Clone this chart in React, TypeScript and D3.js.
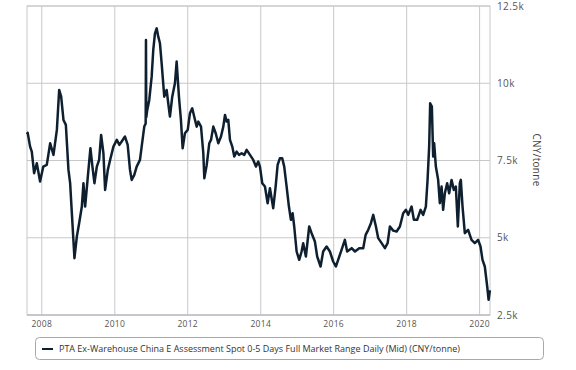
import React from "react";
import * as d3 from "d3";

const dates: string[] = [
  "2007-08-06","2007-08-13","2007-09-06","2007-09-23","2007-10-16","2007-11-12","2007-12-15",
  "2008-01-16","2008-02-20","2008-03-25","2008-04-27","2008-05-31","2008-06-23","2008-07-13",
  "2008-08-05","2008-08-29","2008-09-24","2008-10-11","2008-10-28","2008-11-23","2008-12-17",
  "2009-01-09","2009-02-05","2009-02-21","2009-03-10","2009-04-06","2009-05-02","2009-05-22",
  "2009-06-11","2009-07-05","2009-07-28","2009-08-17","2009-09-09","2009-09-26","2009-10-23",
  "2009-11-15","2009-12-18","2010-01-21","2010-02-16","2010-03-11","2010-04-13","2010-05-10",
  "2010-06-02","2010-06-19","2010-07-15","2010-08-08","2010-09-10","2010-09-27","2010-10-23",
  "2010-11-06","2010-11-09","2010-11-12","2010-11-22","2010-12-12","2011-01-05","2011-01-21",
  "2011-02-07","2011-02-24","2011-03-12","2011-03-29","2011-04-15","2011-05-11","2011-06-04",
  "2011-06-20","2011-07-07","2011-07-30","2011-08-26","2011-09-12","2011-10-05","2011-10-25",
  "2011-11-11","2011-12-04","2012-01-01","2012-01-23","2012-02-15","2012-03-14","2012-03-31",
  "2012-04-16","2012-05-13","2012-06-05","2012-06-15","2012-07-09","2012-08-04","2012-08-21",
  "2012-09-13","2012-10-07","2012-11-02","2012-11-29","2012-12-22","2013-01-08","2013-01-25",
  "2013-02-10","2013-02-27","2013-03-22","2013-04-11","2013-05-05","2013-05-28","2013-06-24",
  "2013-07-20","2013-08-13","2013-09-15","2013-10-18","2013-11-14","2013-12-07","2013-12-24",
  "2014-01-16","2014-02-12","2014-03-11","2014-04-03","2014-05-06","2014-05-30","2014-06-19",
  "2014-07-12","2014-08-04","2014-08-24","2014-09-17","2014-10-10","2014-10-30","2014-11-16",
  "2014-12-02","2014-12-26","2015-01-21","2015-02-14","2015-03-02","2015-03-29","2015-05-01",
  "2015-05-25","2015-06-27","2015-07-20","2015-08-23","2015-09-18","2015-10-22","2015-11-24",
  "2015-12-27","2016-01-23","2016-02-15","2016-03-20","2016-04-22","2016-05-15","2016-06-29",
  "2016-08-01","2016-09-13","2016-10-23","2016-11-16","2016-12-12","2017-01-08","2017-01-31",
  "2017-02-27","2017-03-22","2017-04-25","2017-05-28","2017-06-24","2017-07-17","2017-08-19",
  "2017-09-22","2017-10-25","2017-11-27","2017-12-24","2018-01-16","2018-02-19","2018-03-14",
  "2018-04-16","2018-05-20","2018-06-15","2018-07-12","2018-07-29","2018-08-14","2018-08-24",
  "2018-09-10","2018-09-23","2018-10-03","2018-10-20","2018-11-12","2018-11-29","2018-12-16",
  "2019-01-01","2019-01-18","2019-02-10","2019-03-02","2019-03-26","2019-04-18","2019-05-08",
  "2019-05-28","2019-06-17","2019-06-27","2019-07-14","2019-08-06","2019-09-08","2019-10-12",
  "2019-11-14","2019-12-17","2020-01-10","2020-01-30","2020-02-22","2020-03-17","2020-03-31",
  "2020-04-13",
];

const values: number[] = [
  8350,8393,7950,7788,7089,7412,6818,
  7303,7358,8059,7681,8490,9783,9567,
  8813,8652,7196,6765,5795,4340,5039,
  5472,6010,6765,6010,6980,7897,7303,
  6765,7303,7519,8328,7735,6549,7196,
  7519,7950,8166,8005,8113,8275,8005,
  7196,6872,7034,7303,7519,7950,8597,
  8700,11400,8900,9136,9460,10213,11077,
  11617,11778,11507,11293,10646,9567,9783,
  9352,8921,9567,10000,10700,9567,8813,
  7897,8382,8490,9029,9190,8813,8597,
  8759,8597,7735,6927,7350,8059,8166,
  8597,8382,8059,8275,8597,8975,8759,
  8813,8166,7950,7627,7788,7681,7735,
  7681,7843,7681,7519,7303,7465,7303,
  6765,6657,6118,6603,5957,6657,7358,
  7573,7573,7303,6657,6010,5580,5795,
  5364,4555,4286,4555,4825,4393,5364,
  5148,4878,4393,4070,4555,4717,4555,
  4231,4070,4286,4610,4933,4555,4663,
  4555,4663,4663,5093,5256,5472,5741,
  5364,4987,4825,4663,4825,5364,5230,
  5202,5364,5795,5903,5741,6010,5580,
  5580,5903,5741,6010,6872,7950,9352,
  9244,7627,8059,7303,6872,6118,6657,
  5903,6441,6765,6441,6872,6549,6657,
  5364,6765,6872,6010,5148,5256,4933,
  4825,4933,4717,4286,4070,3423,2992,
  3300,
];

const yTicks: number[] = [2500, 5000, 7500, 10000, 12500];
const xTickYears: number[] = [2008, 2010, 2012, 2014, 2016, 2018, 2020];
const legendLabel = "PTA Ex-Warehouse China E Assessment Spot 0-5 Days Full Market Range Daily (Mid) (CNY/tonne)";
const axisTitle = "CNY/tonne";

const W = 576;
const H = 370;
const left = 27;
const right = 490;
const top = 6;
const bottom = 315;

export default function App() {
  const parse = d3.timeParse("%Y-%m-%d");
  const data = dates.map((d, i) => ({ date: parse(d) as Date, value: values[i] }));

  const x = d3
    .scaleTime()
    .domain([new Date(2007, 7, 6), new Date(2020, 3, 14)])
    .range([left, right]);
  const y = d3.scaleLinear().domain([2500, 12500]).range([bottom, top]);

  const line = d3
    .line<{ date: Date; value: number }>()
    .x((d) => x(d.date))
    .y((d) => y(d.value));

  const fmt = (v: number) => (v / 1000).toString() + "k";
  const font = "'Open Sans', 'DejaVu Sans', sans-serif";

  return (
    <svg
      width={W}
      height={H}
      style={{ position: "absolute", left: 0, top: 0, background: "#fff" }}
      fontFamily={font}
    >
      <rect x={0} y={0} width={W} height={H} fill="#fff" />
      {xTickYears.map((yr) => {
        const xx = x(new Date(yr, 0, 1));
        return (
          <line key={"vx" + yr} x1={xx} x2={xx} y1={top} y2={bottom} stroke="#c8c8c8" strokeWidth={1} />
        );
      })}
      {yTicks.map((t) => (
        <line key={"hy" + t} x1={left} x2={right} y1={y(t)} y2={y(t)} stroke="#c8c8c8" strokeWidth={1} />
      ))}
      <rect x={left} y={top} width={right - left} height={bottom - top} fill="none" stroke="#c8c8c8" strokeWidth={1} />
      <line x1={left} x2={right} y1={bottom} y2={bottom} stroke="#b4bac4" strokeWidth={1} />

      <path d={line(data) || ""} fill="none" stroke="#0e2030" strokeWidth={2.5} strokeLinejoin="round" />

      {yTicks.map((t) => (
        <text key={"yl" + t} x={497} y={y(t)} dy="0.35em" fontSize={10} fill="#555" letterSpacing={0.4}>
          {fmt(t)}
        </text>
      ))}
      {xTickYears.map((yr) => (
        <text
          key={"xl" + yr}
          x={x(new Date(yr, 0, 1))}
          y={327}
          fontSize={8.5}
          fill="#555"
          textAnchor="middle"
          letterSpacing={0.3}
        >
          {yr}
        </text>
      ))}
      <text
        transform={`translate(533, 160) rotate(90)`}
        textAnchor="middle"
        fontSize={10}
        fill="#444"
        letterSpacing={0.3}
      >
        {axisTitle}
      </text>

      <rect x={35.5} y={337.5} width={508} height={22} rx={4} ry={4} fill="#fff" stroke="#a8a8a8" strokeWidth={1} />
      <line x1={42} x2={53} y1={349} y2={349} stroke="#0e2030" strokeWidth={2} />
      <text x={59} y={349} dy="0.35em" fontSize={9} fill="#333" textLength={401} lengthAdjust="spacingAndGlyphs">
        {legendLabel}
      </text>
    </svg>
  );
}
